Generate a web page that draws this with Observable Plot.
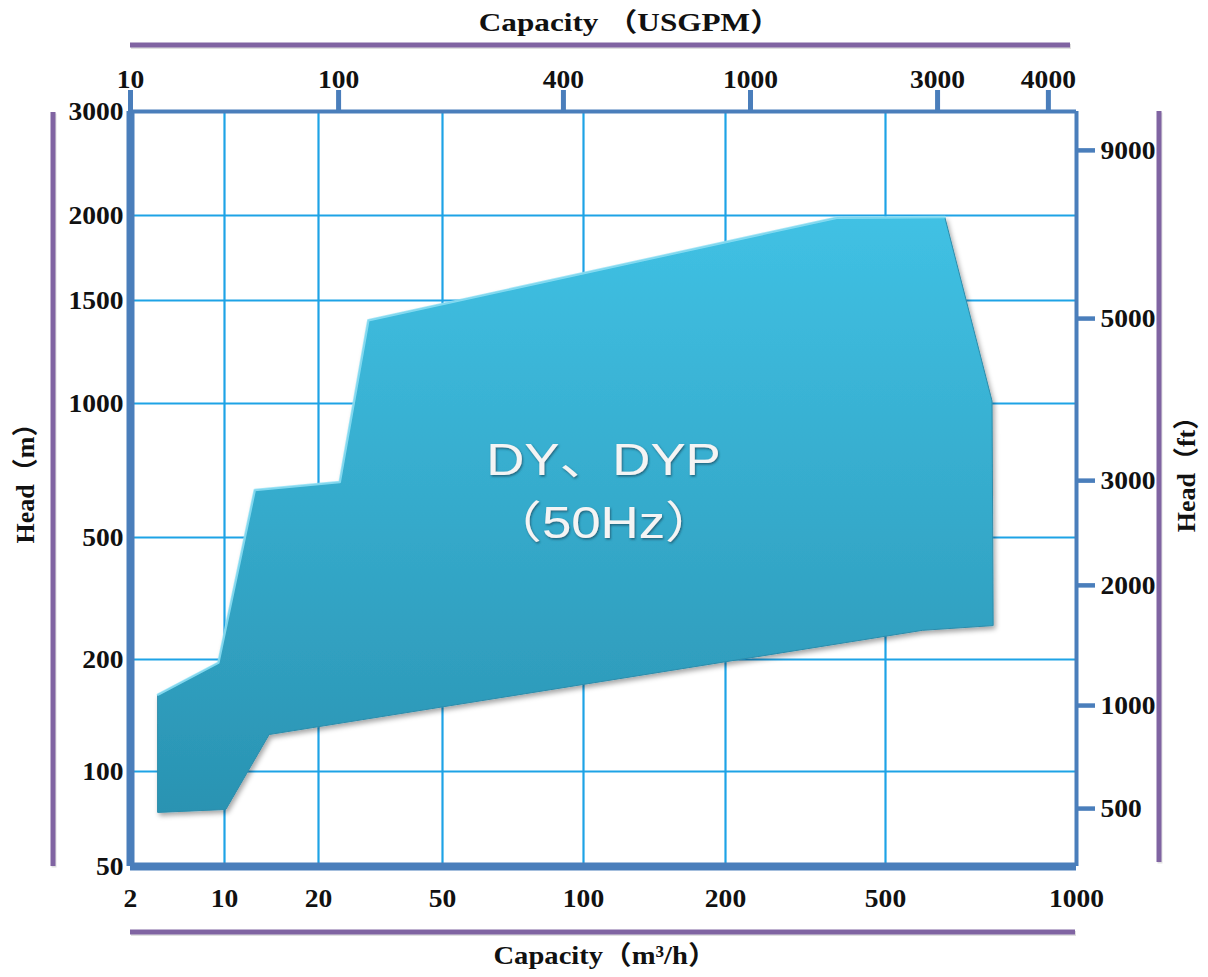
<!DOCTYPE html>
<html><head><meta charset="utf-8">
<script src="https://cdn.jsdelivr.net/npm/d3@7"></script>
<script src="https://cdn.jsdelivr.net/npm/@observablehq/plot@0.6"></script>
<style>body{margin:0;background:#fff}</style>
</head><body><div id="chart"></div>
<script>
// ---- data ----
const xTicks = [2, 10, 20, 50, 100, 200, 500, 1000];            // Capacity m3/h
const yTicks = [50, 100, 200, 500, 1000, 1500, 2000, 3000];     // Head m
const usgpmLabels = ["10", "100", "400", "1000", "3000", "4000"];
const usgpmAt = [2, 23.2, 90.6, 230.8, 604, 903];                // where each USGPM tick sits (m3/h)
const ftLabels = ["9000", "5000", "3000", "2000", "1000", "500"];
const ftAt = [2578, 1397, 671, 349, 150.4, 76.3];                // where each ft tick sits (m)
const upperQ = [3.2, 9.0, 12.5, 23.4, 28.9, 378, 620, 736];
const upperH = [161, 196, 639, 666, 1388, 1985, 1990, 1010];
const lowerQ = [739, 572, 13.9, 10.1, 3.2];
const lowerH = [258, 249, 125.7, 75.8, 74.2];
const seriesLabel = "DY、DYP\n（50Hz）";
const titleTop = "Capacity （USGPM）";
const titleBottom = "Capacity（m³/h）";
const titleLeft = "Head（m）";
const titleRight = "Head（ft）";

// ---- layout / style ----
const W = 1208, H = 977;
const xRange = [130, 224, 318, 442, 583, 725, 885, 1076];
const yRange = [866, 771, 659, 537, 403, 300, 215, 111];
const frameColor = "#4a7ebb";
const gridColor = "#1ea3e6";
const purple = "#8064a2";
const serif = "'Liberation Serif','Times New Roman','Noto Sans CJK SC',serif";
const sans = "'Liberation Sans',Arial,'Noto Sans CJK SC',sans-serif";

const poly = [
  ...upperQ.map((q, i) => ({q, h: upperH[i]})),
  ...lowerQ.map((q, i) => ({q, h: lowerH[i]}))
];
const upperEdge = upperQ.slice(0, 7).map((q, i) => ({q, h: upperH[i]}));
const fmt = d => String(d);
const usgpmMap = new Map(usgpmAt.map((v, i) => [v, usgpmLabels[i]]));
const ftMap = new Map(ftAt.map((v, i) => [v, ftLabels[i]]));
const tickText = {fontSize: 26, fontWeight: "bold", fontFamily: serif, fill: "#111"};
const tickOnly = {fill: "none", label: null, stroke: frameColor};

const chart = Plot.plot({
  width: W, height: H,
  marginLeft: 130, marginRight: W - 1076, marginTop: 111, marginBottom: H - 866,
  style: {background: "#fff", fontFamily: serif},
  x: {type: "log", domain: xTicks, range: xRange, axis: null, label: null},
  y: {type: "log", domain: yTicks, range: yRange, axis: null, label: null},
  marks: [
    Plot.ruleX(xTicks.slice(1, -1), {stroke: gridColor, strokeWidth: 2.2}),
    Plot.ruleY(yTicks.slice(1, -1), {stroke: gridColor, strokeWidth: 2.2}),
    Plot.line(poly, {x: "q", y: "h", curve: "linear-closed", fill: "url(#areaGrad)", stroke: "#2b8cab", strokeWidth: 1}),
    Plot.line(upperEdge, {x: "q", y: "h", stroke: "#8fe2f7", strokeWidth: 2.5, strokeOpacity: 0.85}),
    Plot.text([seriesLabel], {frameAnchor: "middle", text: d => d, dy: -3, fontSize: 44, fontFamily: sans, fill: "#f4f4f4", lineHeight: 1.44}),
    Plot.ruleX([xTicks[0]], {stroke: frameColor, strokeWidth: 8}),
    Plot.ruleX([xTicks[xTicks.length - 1]], {stroke: frameColor, strokeWidth: 4}),
    Plot.ruleY([yTicks[0]], {stroke: frameColor, strokeWidth: 8}),
    Plot.ruleY([yTicks[yTicks.length - 1]], {stroke: frameColor, strokeWidth: 4}),
    // tick lines of the top (USGPM) and right (ft) axes
    Plot.axisX(usgpmAt, {anchor: "top", tickSize: 22, strokeWidth: 5, ...tickOnly}),
    Plot.axisY(ftAt, {anchor: "right", tickSize: 18, strokeWidth: 4.5, ...tickOnly}),
    // tick labels
    Plot.text(xTicks, {x: d => d, frameAnchor: "bottom", lineAnchor: "top", dy: 22, text: fmt, ...tickText}),
    Plot.text(yTicks, {y: d => d, frameAnchor: "left", textAnchor: "end", dx: -7, text: fmt, ...tickText}),
    Plot.text(usgpmAt, {x: d => d, frameAnchor: "top", lineAnchor: "bottom", dy: -24, text: d => usgpmMap.get(d), ...tickText}),
    Plot.text(ftAt, {y: d => d, frameAnchor: "right", textAnchor: "start", dx: 24, text: d => ftMap.get(d), ...tickText})
  ]
});

// ---- decorations: gradient, shadows, titles, purple bars ----
const svg = d3.select(chart);
const defs = svg.insert("defs", ":first-child");
const grad = defs.append("linearGradient").attr("id", "areaGrad").attr("x1", 0).attr("y1", 0).attr("x2", 0).attr("y2", 1);
grad.append("stop").attr("offset", "0%").attr("stop-color", "#40c1e4");
grad.append("stop").attr("offset", "100%").attr("stop-color", "#2a93b2");
const sh = defs.append("filter").attr("id", "shadow").attr("x", "-10%").attr("y", "-10%").attr("width", "130%").attr("height", "130%");
sh.append("feDropShadow").attr("dx", 2).attr("dy", 3).attr("stdDeviation", 2.5).attr("flood-color", "#000").attr("flood-opacity", 0.35);
const tsh = defs.append("filter").attr("id", "textShadow");
tsh.append("feDropShadow").attr("dx", 1).attr("dy", 1.5).attr("stdDeviation", 0.8).attr("flood-color", "#1b5c72").attr("flood-opacity", 0.9);

// first line group = envelope polygon
svg.selectAll('g[aria-label="line"]').filter((d, i) => i === 0).attr("filter", "url(#shadow)");
// text groups: 0 = series label, 1..4 = tick labels
const textGroups = svg.selectAll('g[aria-label="text"]').nodes();
const widen = (g, s) => d3.select(g).selectAll("text").each(function () {
  const t = this.getAttribute("transform") || "";
  this.setAttribute("transform", t + ` scale(${s},1)`);
});
if (textGroups[0]) {
  textGroups[0].setAttribute("filter", "url(#textShadow)");
  widen(textGroups[0], 1.2);
}
textGroups.slice(1).forEach(g => widen(g, 1.06));

const deco = svg.append("g");
const bars = [[130, 45, 1070, 45], [130, 932, 1075, 932], [53, 112, 53, 866], [1159, 111, 1159, 862]];
bars.forEach(([x1, y1, x2, y2]) => {
  deco.append("line").attr("x1", x1 + 1).attr("y1", y1 + 1.5).attr("x2", x2 + 1).attr("y2", y2 + 1.5)
    .attr("stroke", "#000").attr("stroke-opacity", 0.12).attr("stroke-width", 5);
  deco.append("line").attr("x1", x1).attr("y1", y1).attr("x2", x2).attr("y2", y2)
    .attr("stroke", purple).attr("stroke-width", 5);
});
const title = (t, x, y, rot, sx) => deco.append("text").text(t)
  .attr("transform", `translate(${x},${y})` + (rot ? ` rotate(${rot})` : "") + (sx ? ` scale(${sx},1)` : ""))
  .attr("text-anchor", "middle").attr("dy", "0.35em")
  .attr("font-family", serif).attr("font-weight", "bold").attr("font-size", 26).attr("fill", "#111");
title(titleTop, 630, 22, 0, 1.2);
title(titleBottom, 605, 955, 0, 1.1);
title(titleLeft, 25, 477, -90);
title(titleRight, 1186, 468, -90);

document.getElementById("chart").appendChild(chart);
</script>
</body></html>
